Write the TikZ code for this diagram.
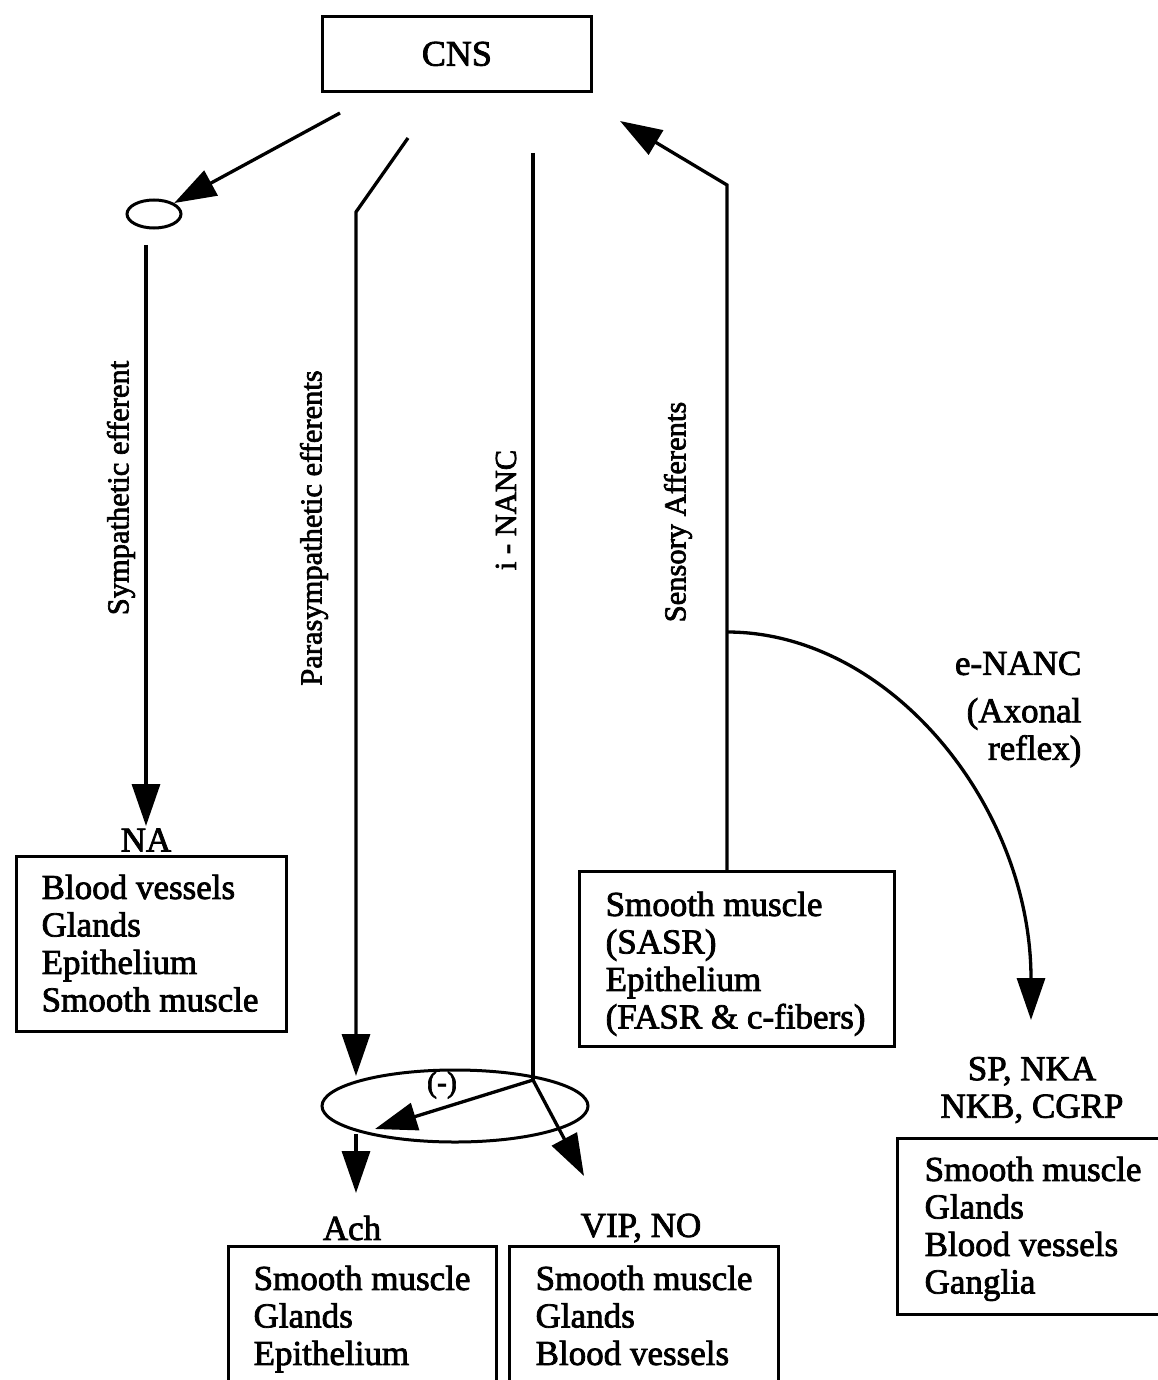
\documentclass[tikz,border=0pt]{standalone}
\usepackage{fontspec}
\setmainfont{Liberation Serif}[RawFeature={embolden=2.2}]
\usetikzlibrary{arrows.meta,shapes.geometric}
\begin{document}
\begin{tikzpicture}[x=1pt,y=-1pt,line width=3.3pt,
  tip/.style={-{Triangle[length=42pt,width=28pt]}},
  box/.style={draw,line width=2.8pt,anchor=north west,inner sep=0pt},
  lst/.style={anchor=north west,align=left,inner sep=0pt,font=\fontsize{35}{37.5}\selectfont},
  lab/.style={inner sep=0pt,font=\fontsize{35}{37.5}\selectfont},
  rot/.style={rotate=90,inner sep=0pt,font=\fontsize{30.5}{34}\selectfont},
  oval/.style={draw,ellipse,line width=3pt,inner sep=0pt}]
\useasboundingbox (0,0) rectangle (1157,1380);
\fill[white] (0,0) rectangle (1157,1380);

% CNS
\node[box,minimum width=269pt,minimum height=75pt] (cns) at (321,15) {};
\node[lab,font=\fontsize{36}{40}\selectfont] (cnstext) at (cns.center) {CNS};

% Ganglion and sympathetic
\node[oval,minimum width=54pt,minimum height=28pt] (gan) at (154,214) {};
\coordinate (s0) at (340,113);
\coordinate (s1) at (146,245);
\coordinate (s2) at (146,826);
\draw[tip] (s0) -- (gan);
\draw[tip] (s1) -- (s2);
\node[rot] (symlab) at (121,488) {Sympathetic efferent};

\node[lab] (na) at (146,840) {NA};
\node[box,minimum width=270pt,minimum height=175pt] (nabox) at (15,855) {};
\node[lst] (natext) at (40,873) {Blood vessels\\Glands\\Epithelium\\Smooth muscle};

% Parasympathetic
\node[oval,minimum width=266pt,minimum height=72pt] (gang2) at (455,1106) {};
\coordinate (p0) at (408,138);
\coordinate (p1) at (356,212);
\coordinate (p2) at (356,1076);
\draw[tip] (p0) -- (p1) -- (p2);
\node[rot] (paralab) at (314,528) {Parasympathetic efferents};

% i-NANC
\coordinate (i0) at (533,153);
\coordinate (i1) at (533,1080);
\coordinate (i2) at (375,1129);
\coordinate (i3) at (584,1176);
\draw (i0) -- (i1);
\draw[tip] (i1) -- (i2);
\draw[tip] (i1) -- (i3);
\node[rot] (inanclab) at (506,510) {i - NANC};
\node[lab,font=\fontsize{30}{34}\selectfont] (minus) at (442,1085) {(-)};

% Ach
\coordinate (a0) at (356,1134);
\coordinate (a1) at (356,1193);
\draw[tip] (a0) -- (a1);
\node[lab] (ach) at (352,1228) {Ach};
\node[box,minimum width=268pt,minimum height=160pt] (achbox) at (227,1245) {};
\node[lst] (achtext) at (252,1264) {Smooth muscle\\Glands\\Epithelium};

\node[lab] (vip) at (641,1228) {VIP, NO};
\node[box,minimum width=269pt,minimum height=160pt] (vipbox) at (508,1245) {};
\node[lst] (viptext) at (534,1264) {Smooth muscle\\Glands\\Blood vessels};

% Sensory afferents
\node[box,minimum width=315pt,minimum height=175pt] (senbox) at (578,870) {};
\node[lst] (sentext) at (604,890) {Smooth muscle\\(SASR)\\Epithelium\\(FASR \& c-fibers)};
\coordinate (f0) at (727,870);
\coordinate (f1) at (727,185);
\coordinate (f2) at (620,121);
\coordinate (fb) at (727,632);
\draw[tip] (f0) -- (f1) -- (f2);
\node[rot] (senlab) at (678,512) {Sensory Afferents};

% e-NANC
\coordinate (e1) at (1031,1020);
\draw[tip] (fb) .. controls (890,632) and (1031,806) .. (e1);
\node[lab,anchor=north east,align=right] (enanc) at (1083,650) {e-NANC\\[10pt](Axonal\\reflex)};

\node[lab,align=center] (sp) at (1032,1090) {SP, NKA\\NKB, CGRP};
\node[box,minimum width=280pt,minimum height=176pt] (rbox) at (896,1137) {};
\node[lst] (rtext) at (923,1155) {Smooth muscle\\Glands\\Blood vessels\\Ganglia};
\end{tikzpicture}
\end{document}
